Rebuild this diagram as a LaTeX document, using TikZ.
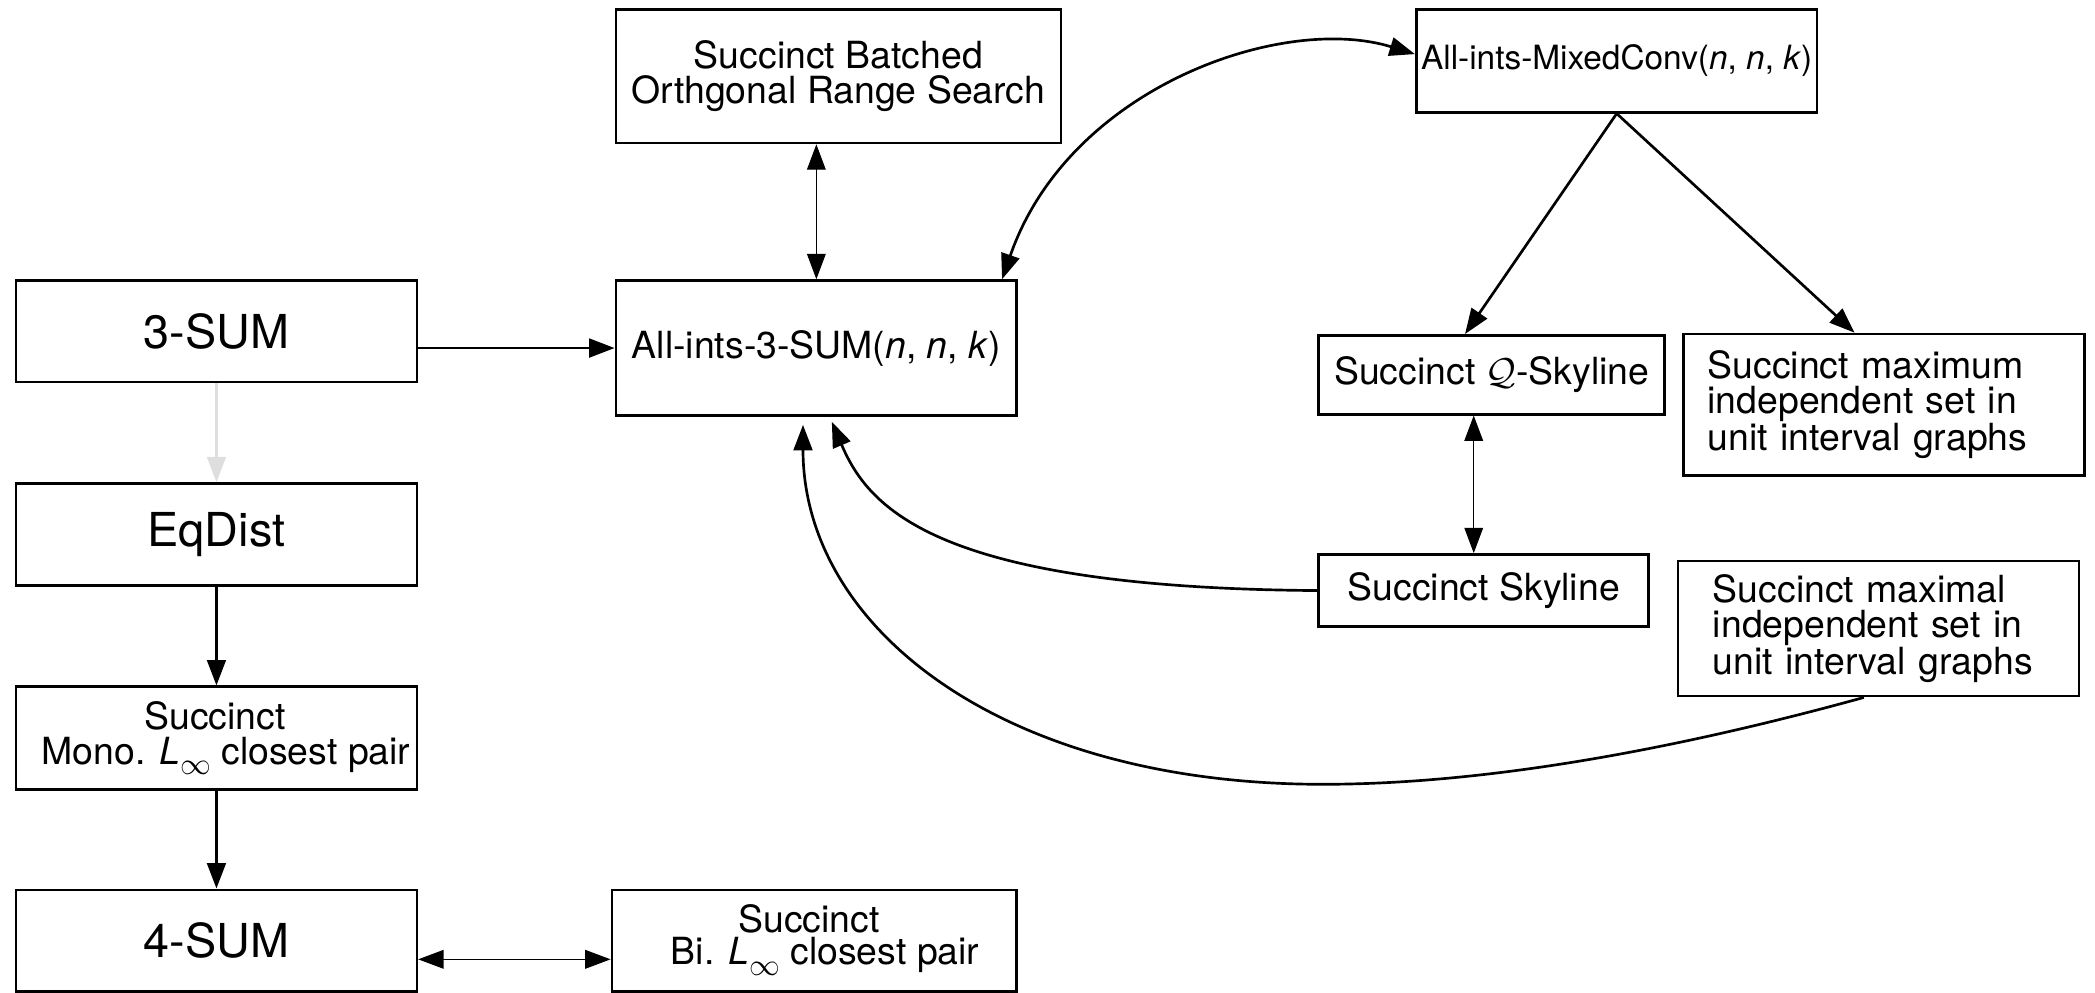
\documentclass[tikz,border=0pt]{standalone}
\usepackage{fix-cm}
\usepackage{fontspec}
\setmainfont{TeX Gyre Heros}
\usetikzlibrary{arrows.meta}
\newcommand\fsnormal{\fontsize{28}{26}\selectfont}
\newcommand\fsbig{\fontsize{35}{36}\selectfont}
\newcommand\fssmall{\fontsize{25}{26}\selectfont}
\newcommand\Linf{\textit{L}\raisebox{-0.28em}{\fontsize{23}{23}\selectfont$\infty$}}
\begin{document}
\begin{tikzpicture}[x=1pt,y=-1pt,
  box/.style={draw, line width=2pt, rectangle, inner sep=0pt, align=center, font=\fsnormal},
  txt/.style={inner sep=0pt, font=\fsnormal},
  tipa/.tip={Triangle[length=19pt,width=14pt]},
  thickarr/.style={line width=2pt, -tipa},
  thinarr/.style={line width=0.9pt, tipa-tipa},
  grayarr/.style={line width=1.6pt, draw=black!13, -{Triangle[length=19pt,width=14pt,fill=black!13]}}
]
\useasboundingbox (0,0) rectangle (1568,743);

\node[box, minimum width=333pt, minimum height=100pt] (batched) at (627.5,57) {Succinct Batched\\Orthgonal Range Search};
\node[box, minimum width=300pt, minimum height=77pt, font=\fssmall] (mixed) at (1210,45.5) {All-ints-MixedConv(\textit{n}, \textit{n}, \textit{k})};
\node[box, minimum width=300pt, minimum height=76pt, font=\fsbig] (three) at (162,248) {3-SUM};
\node[box, minimum width=300pt, minimum height=101pt] (allints) at (611,260.5) {All-ints-3-SUM(\textit{n}, \textit{n}, \textit{k})};
\node[box, minimum width=259pt, minimum height=59pt] (qsky) at (1116.5,280.5) {Succinct $\mathcal{Q}$-Skyline};
\node[box, minimum width=300pt, minimum height=106pt, align=left, text width=264pt, inner xsep=18pt] (maximum) at (1410,303) {Succinct maximum\\independent set in\\unit interval graphs};
\node[box, minimum width=300pt, minimum height=76pt, font=\fsbig] (eqdist) at (162,400) {EqDist};
\node[box, minimum width=247pt, minimum height=54pt] (sky) at (1110.5,442) {Succinct Skyline};
\node[box, minimum width=300pt, minimum height=101pt, align=left, text width=248pt, inner xsep=26pt] (maximal) at (1406,470.5) {Succinct maximal\\independent set in\\unit interval graphs};
\node[box, minimum width=300pt, minimum height=77pt] (mono) at (162,552.5) {};
\node[box, minimum width=300pt, minimum height=76pt, font=\fsbig] (four) at (162,704) {4-SUM};
\node[box, minimum width=303pt, minimum height=76pt] (bi) at (609.5,704) {};

% texts of the two closest-pair boxes
\begin{scope}
  \clip (mono.south west) rectangle ([xshift=-1pt]mono.north east);
  \node[txt, anchor=base] (mono1) at (161,546) {Succinct};
  \node[txt, anchor=base west] (mono2) at (31,572) {Mono. \Linf{} closest pair};
\end{scope}
\node[txt, anchor=base] (bi1) at (605.5,698) {Succinct};
\node[txt, anchor=base west] (bi2) at (502,722) {Bi. \Linf{} closest pair};

% straight connectors
\draw[thinarr] (allints.north |- batched.south) -- (allints.north);
\draw[thickarr] (three.east |- allints.west) -- (allints.west);
\draw[grayarr] (three.south) -- (eqdist.north);
\draw[thickarr] (eqdist.south) -- (mono.north);
\draw[thickarr] (mono.south) -- (four.north);
\coordinate (fa) at ([yshift=-14pt]four.east);
\draw[thinarr] (fa) -- (fa -| bi.west);
\draw[thickarr] (mixed.south) -- ([xshift=-20pt]qsky.north);
\draw[thickarr] (mixed.south) -- ([xshift=-22pt]maximum.north);
\coordinate (sk) at ([xshift=-7.5pt]sky.north);
\draw[thinarr] (sk |- qsky.south) -- (sk);

% curved connectors
\draw[line width=2pt, tipa-tipa] ([xshift=139pt]allints.north) .. controls (800,65) and (960,10) .. ([yshift=5pt]mixed.west);
\draw[thickarr, shorten >=4pt] (sky.west) .. controls (700,440) and (650,380) .. ([xshift=10pt]allints.south);
\draw[thickarr, shorten >=6pt] ([xshift=-11pt]maximal.south) .. controls (1250,562) and (1110,587) .. (990,587) .. controls (750,587) and (601,470) .. ([xshift=-10pt]allints.south);
\end{tikzpicture}
\end{document}
